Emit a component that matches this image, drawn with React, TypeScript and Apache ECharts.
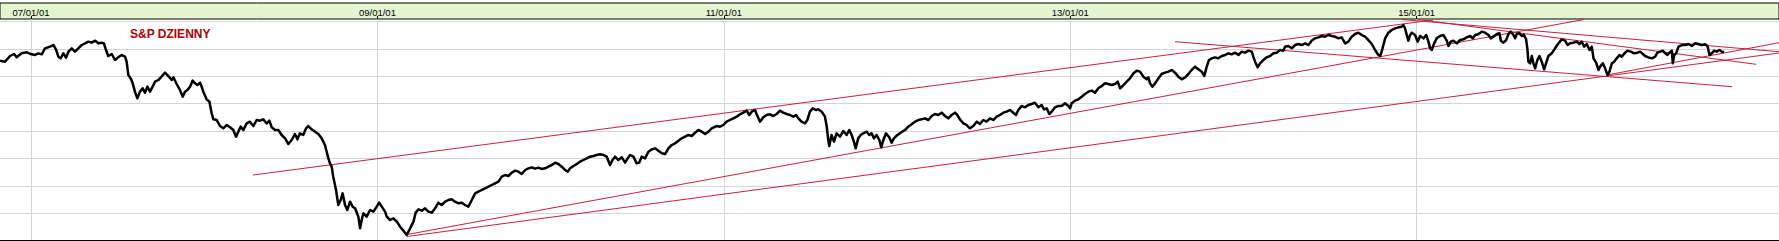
import React, { useEffect, useRef } from "react";
import * as echarts from "echarts";

// x = decimal year, y = index level
const sp2007_2008: [number, number][] = [
  [2006.821, 1713.8], [2006.85, 1706.5], [2006.879, 1747.8], [2006.902, 1762.4], [2006.917, 1738.1],
  [2006.946, 1767.2], [2006.975, 1774.5], [2007.004, 1760.0], [2007.023, 1755.1], [2007.042, 1767.2],
  [2007.062, 1760.0], [2007.081, 1803.7], [2007.11, 1815.8], [2007.129, 1827.9], [2007.144, 1796.4],
  [2007.158, 1743.0], [2007.171, 1730.8], [2007.187, 1767.2], [2007.202, 1735.7], [2007.216, 1779.4],
  [2007.235, 1803.7], [2007.254, 1779.4], [2007.273, 1803.7], [2007.293, 1827.9], [2007.312, 1840.1],
  [2007.331, 1852.2], [2007.35, 1844.9], [2007.37, 1859.5], [2007.389, 1840.1], [2007.408, 1844.9],
  [2007.421, 1840.1], [2007.433, 1791.5], [2007.446, 1747.8], [2007.466, 1762.4], [2007.485, 1718.7],
  [2007.504, 1738.1], [2007.523, 1755.1], [2007.543, 1743.0], [2007.552, 1706.5], [2007.562, 1609.4],
  [2007.575, 1585.1], [2007.587, 1548.7], [2007.6, 1488.0], [2007.614, 1439.4], [2007.629, 1488.0],
  [2007.645, 1512.3], [2007.658, 1480.7], [2007.672, 1524.4], [2007.687, 1488.0], [2007.702, 1524.4],
  [2007.716, 1560.8], [2007.735, 1573.0], [2007.754, 1597.3], [2007.774, 1626.4], [2007.793, 1602.1],
  [2007.812, 1573.0], [2007.822, 1592.4], [2007.841, 1543.8], [2007.86, 1500.1], [2007.876, 1451.5],
  [2007.889, 1488.0], [2007.903, 1500.1], [2007.918, 1524.4], [2007.933, 1568.1], [2007.947, 1548.7],
  [2007.96, 1536.5], [2007.976, 1553.5], [2007.985, 1524.4], [2007.995, 1488.0], [2008.014, 1432.1],
  [2008.03, 1415.1], [2008.043, 1330.1], [2008.053, 1286.4], [2008.072, 1281.5], [2008.091, 1237.8],
  [2008.11, 1220.8], [2008.13, 1245.1], [2008.149, 1228.1], [2008.168, 1208.7], [2008.184, 1160.1],
  [2008.197, 1196.6], [2008.211, 1233.0], [2008.226, 1208.7], [2008.245, 1257.3], [2008.264, 1269.4],
  [2008.284, 1237.8], [2008.303, 1281.5], [2008.322, 1276.7], [2008.341, 1286.4], [2008.361, 1257.3],
  [2008.376, 1276.7], [2008.39, 1228.1], [2008.409, 1208.7], [2008.428, 1208.7], [2008.447, 1172.3],
  [2008.467, 1148.0], [2008.486, 1106.7], [2008.505, 1135.8], [2008.524, 1179.6], [2008.538, 1140.7],
  [2008.553, 1184.4], [2008.572, 1172.3], [2008.588, 1220.8], [2008.601, 1237.8], [2008.62, 1213.6],
  [2008.64, 1196.6], [2008.659, 1179.6], [2008.678, 1148.0], [2008.697, 1099.4], [2008.717, 1002.3],
  [2008.726, 965.8], [2008.736, 941.6], [2008.745, 868.7], [2008.761, 771.6], [2008.774, 662.3],
  [2008.788, 698.7], [2008.799, 747.3], [2008.813, 662.3], [2008.826, 625.8], [2008.842, 686.6],
  [2008.857, 650.1], [2008.871, 638.0],
];

const sp2009_2010: [number, number][] = [
  [2008.89, 577.3], [2008.9, 492.3], [2008.909, 553.0], [2008.919, 601.6], [2008.938, 577.3],
  [2008.958, 625.9], [2008.977, 613.7], [2008.996, 650.1], [2009.01, 679.3], [2009.025, 650.1],
  [2009.044, 613.7], [2009.054, 577.3], [2009.073, 553.0], [2009.092, 565.1], [2009.112, 540.9],
  [2009.131, 504.4], [2009.15, 475.3], [2009.169, 443.9], [2009.189, 492.3], [2009.208, 540.9],
  [2009.221, 606.5], [2009.237, 630.7], [2009.256, 621.0], [2009.275, 638.0], [2009.294, 613.7],
  [2009.314, 606.5], [2009.333, 638.0], [2009.352, 679.3], [2009.371, 662.3], [2009.391, 686.6],
  [2009.41, 698.7], [2009.429, 703.6], [2009.448, 686.6], [2009.468, 674.4], [2009.487, 679.3],
  [2009.506, 662.3], [2009.525, 650.1], [2009.545, 698.7], [2009.564, 747.3], [2009.583, 759.4],
  [2009.602, 771.6], [2009.622, 783.7], [2009.641, 795.8], [2009.66, 808.0], [2009.679, 820.1],
  [2009.699, 832.3], [2009.718, 868.7], [2009.737, 880.8], [2009.756, 873.6], [2009.776, 897.8],
  [2009.795, 912.4], [2009.814, 905.1], [2009.833, 888.1], [2009.853, 917.3], [2009.872, 929.4],
  [2009.891, 936.7], [2009.91, 927.0], [2009.93, 934.3], [2009.949, 924.6], [2009.968, 929.4],
  [2009.987, 941.6], [2010.007, 953.7], [2010.026, 970.7], [2010.045, 961.0], [2010.064, 941.6],
  [2010.083, 917.3], [2010.099, 905.1], [2010.112, 929.4], [2010.132, 946.4], [2010.151, 961.0],
  [2010.17, 978.0], [2010.189, 990.1], [2010.209, 1002.3], [2010.228, 1014.4], [2010.247, 1019.3],
  [2010.266, 1026.5], [2010.286, 1031.4], [2010.305, 1026.5], [2010.324, 1014.4], [2010.343, 953.7],
  [2010.357, 990.1], [2010.372, 1014.4], [2010.391, 990.1], [2010.411, 1009.6], [2010.43, 970.7],
  [2010.445, 1002.3], [2010.459, 1026.5], [2010.478, 1014.4], [2010.497, 965.8], [2010.511, 970.7],
  [2010.526, 1014.4], [2010.545, 1002.3], [2010.565, 1050.8], [2010.584, 1067.8], [2010.603, 1075.1],
  [2010.622, 1058.1], [2010.642, 1038.7], [2010.661, 1033.8], [2010.68, 1075.1], [2010.699, 1099.4],
  [2010.719, 1111.6], [2010.738, 1131.0], [2010.757, 1148.0], [2010.776, 1160.1], [2010.796, 1172.3],
  [2010.815, 1165.0], [2010.834, 1189.3], [2010.853, 1208.7], [2010.873, 1196.6], [2010.892, 1179.6],
  [2010.911, 1196.6], [2010.93, 1220.8],
];

const sp2011_2012: [number, number][] = [
  [2010.958, 1237.8], [2010.978, 1233.0], [2010.997, 1245.1], [2011.016, 1269.4], [2011.035, 1281.5],
  [2011.055, 1293.7], [2011.074, 1305.8], [2011.093, 1322.8], [2011.112, 1335.0], [2011.132, 1349.5],
  [2011.147, 1318.0], [2011.161, 1342.3], [2011.18, 1354.4], [2011.189, 1325.3], [2011.209, 1269.4],
  [2011.228, 1301.0], [2011.247, 1318.0], [2011.266, 1322.8], [2011.286, 1310.7], [2011.305, 1325.3],
  [2011.324, 1349.5], [2011.343, 1335.0], [2011.363, 1325.3], [2011.382, 1318.0], [2011.401, 1305.8],
  [2011.417, 1318.0], [2011.43, 1293.7], [2011.449, 1269.4], [2011.469, 1257.3], [2011.482, 1281.5],
  [2011.497, 1342.3], [2011.513, 1366.5], [2011.532, 1354.4], [2011.545, 1359.3], [2011.565, 1342.3],
  [2011.584, 1305.8], [2011.594, 1233.0], [2011.603, 1135.8], [2011.609, 1092.1], [2011.622, 1172.3],
  [2011.636, 1123.7], [2011.651, 1184.4], [2011.671, 1160.1], [2011.69, 1201.4], [2011.709, 1172.3],
  [2011.724, 1208.7], [2011.738, 1172.3], [2011.751, 1123.7], [2011.761, 1075.1], [2011.776, 1148.0],
  [2011.79, 1172.3], [2011.805, 1184.4], [2011.825, 1196.6], [2011.84, 1172.3], [2011.853, 1184.4],
  [2011.867, 1148.0], [2011.882, 1172.3], [2011.898, 1135.8], [2011.909, 1082.4], [2011.921, 1135.8],
  [2011.936, 1184.4], [2011.955, 1155.3], [2011.969, 1116.4], [2011.982, 1148.0], [2012.002, 1172.3],
  [2012.021, 1189.3], [2012.046, 1208.7], [2012.065, 1233.0], [2012.084, 1250.0], [2012.104, 1269.4],
  [2012.123, 1281.5], [2012.142, 1286.4], [2012.161, 1293.7], [2012.181, 1281.5], [2012.2, 1310.7],
  [2012.219, 1325.3], [2012.238, 1318.0], [2012.258, 1335.0], [2012.277, 1310.7], [2012.296, 1293.7],
  [2012.315, 1318.0], [2012.335, 1335.0], [2012.348, 1318.0], [2012.363, 1286.4], [2012.383, 1257.3],
  [2012.402, 1245.1], [2012.421, 1220.8], [2012.44, 1237.8], [2012.46, 1269.4], [2012.479, 1252.4],
  [2012.498, 1281.5], [2012.517, 1269.4], [2012.537, 1293.7], [2012.556, 1281.5], [2012.575, 1305.8],
  [2012.594, 1318.0], [2012.614, 1335.0], [2012.633, 1342.3], [2012.652, 1354.4], [2012.671, 1335.0],
  [2012.687, 1318.0], [2012.7, 1354.4], [2012.719, 1383.5], [2012.739, 1373.9], [2012.758, 1390.8],
  [2012.777, 1398.1], [2012.796, 1407.8], [2012.816, 1373.9], [2012.835, 1390.8], [2012.848, 1359.3],
  [2012.864, 1366.5], [2012.879, 1325.3], [2012.893, 1342.3], [2012.912, 1373.9], [2012.931, 1383.5],
  [2012.95, 1383.5], [2012.97, 1402.9],
];

const sp2013_2014: [number, number][] = [
  [2012.989, 1383.5], [2012.999, 1366.5], [2013.008, 1402.9], [2013.028, 1422.4], [2013.047, 1432.1],
  [2013.066, 1451.5], [2013.085, 1470.9], [2013.105, 1487.9], [2013.124, 1495.3], [2013.143, 1480.7],
  [2013.162, 1512.3], [2013.182, 1529.3], [2013.201, 1548.7], [2013.22, 1543.8], [2013.239, 1536.5],
  [2013.259, 1543.8], [2013.274, 1560.8], [2013.288, 1512.3], [2013.307, 1536.5], [2013.326, 1560.8],
  [2013.345, 1585.1], [2013.365, 1621.5], [2013.384, 1641.0], [2013.403, 1633.7], [2013.422, 1597.3],
  [2013.442, 1577.8], [2013.451, 1592.4], [2013.461, 1548.7], [2013.474, 1524.4], [2013.49, 1548.7],
  [2013.509, 1585.1], [2013.528, 1616.7], [2013.547, 1626.4], [2013.567, 1633.7], [2013.586, 1645.8],
  [2013.605, 1626.4], [2013.624, 1597.3], [2013.644, 1577.8], [2013.663, 1592.4], [2013.682, 1616.7],
  [2013.701, 1645.8], [2013.721, 1670.1], [2013.74, 1650.7], [2013.759, 1633.7], [2013.774, 1602.1],
  [2013.788, 1670.1], [2013.801, 1718.7], [2013.817, 1730.8], [2013.836, 1738.1], [2013.855, 1730.8],
  [2013.875, 1747.8], [2013.894, 1755.1], [2013.913, 1767.3], [2013.932, 1760.0], [2013.952, 1772.1],
  [2013.971, 1755.1], [2013.99, 1779.4], [2014.009, 1772.1], [2014.029, 1786.7], [2014.048, 1779.4],
  [2014.057, 1743.0], [2014.067, 1706.5], [2014.082, 1665.3], [2014.096, 1694.4], [2014.115, 1718.7],
  [2014.134, 1738.1], [2014.154, 1747.8], [2014.173, 1767.3], [2014.192, 1772.1], [2014.211, 1791.5],
  [2014.231, 1786.7], [2014.24, 1815.8], [2014.259, 1820.7], [2014.279, 1803.7], [2014.298, 1827.9],
  [2014.317, 1835.2], [2014.336, 1827.9], [2014.356, 1840.1], [2014.375, 1827.9], [2014.394, 1859.5],
  [2014.413, 1876.5], [2014.433, 1883.8], [2014.452, 1893.5], [2014.471, 1888.7], [2014.49, 1900.8],
  [2014.51, 1893.5], [2014.529, 1888.7], [2014.548, 1876.5], [2014.567, 1883.8], [2014.587, 1840.1],
  [2014.606, 1852.2], [2014.625, 1888.7], [2014.644, 1908.1], [2014.664, 1917.8], [2014.683, 1900.8],
  [2014.702, 1888.7], [2014.721, 1864.4], [2014.741, 1835.2], [2014.76, 1791.5], [2014.779, 1755.1],
  [2014.789, 1747.8], [2014.798, 1779.4], [2014.808, 1827.9], [2014.818, 1876.5], [2014.837, 1917.8],
  [2014.856, 1937.2], [2014.875, 1949.4], [2014.895, 1956.7], [2014.914, 1961.5], [2014.923, 1973.7],
  [2014.933, 1949.4], [2014.943, 1900.8], [2014.952, 1859.5], [2014.962, 1900.8], [2014.972, 1917.8],
  [2014.991, 1900.8], [2015.006, 1852.2],
];

const sp2015_2016: [number, number][] = [
  [2015.02, 1893.5], [2015.039, 1876.5], [2015.055, 1900.8], [2015.068, 1852.2], [2015.078, 1803.7],
  [2015.087, 1791.5], [2015.101, 1840.1], [2015.116, 1876.5], [2015.135, 1893.5], [2015.155, 1900.8],
  [2015.174, 1859.5], [2015.184, 1820.7], [2015.197, 1852.2], [2015.212, 1859.5], [2015.232, 1840.1],
  [2015.251, 1864.4], [2015.27, 1869.2], [2015.289, 1883.8], [2015.309, 1893.5], [2015.324, 1876.5],
  [2015.338, 1900.8], [2015.357, 1908.1], [2015.376, 1925.1], [2015.395, 1917.8], [2015.415, 1900.8],
  [2015.428, 1876.5], [2015.443, 1888.7], [2015.463, 1908.1], [2015.478, 1913.0], [2015.486, 1859.5],
  [2015.501, 1844.9], [2015.517, 1864.4], [2015.53, 1908.1], [2015.543, 1925.1], [2015.559, 1900.8],
  [2015.568, 1876.5], [2015.578, 1908.1], [2015.594, 1913.0], [2015.607, 1893.5], [2015.62, 1900.8],
  [2015.632, 1869.2], [2015.64, 1791.5], [2015.645, 1706.5], [2015.655, 1694.4], [2015.665, 1747.8],
  [2015.674, 1694.4], [2015.684, 1658.0], [2015.697, 1718.7], [2015.709, 1747.8], [2015.722, 1706.5],
  [2015.736, 1650.7], [2015.747, 1694.4], [2015.761, 1747.8], [2015.78, 1767.3], [2015.799, 1803.7],
  [2015.819, 1840.1], [2015.838, 1869.2], [2015.857, 1859.5], [2015.871, 1827.9], [2015.886, 1840.1],
  [2015.905, 1845.0], [2015.925, 1852.2], [2015.94, 1835.2], [2015.953, 1852.2], [2015.967, 1815.8],
  [2015.982, 1835.2], [2015.998, 1791.5], [2016.011, 1815.8], [2016.021, 1730.8], [2016.036, 1699.3],
  [2016.05, 1645.8], [2016.059, 1670.1], [2016.075, 1694.4], [2016.088, 1658.0], [2016.102, 1609.4],
  [2016.113, 1633.7], [2016.127, 1694.4], [2016.14, 1706.5], [2016.155, 1730.8], [2016.171, 1755.1],
  [2016.184, 1743.0], [2016.204, 1772.1], [2016.217, 1786.7], [2016.236, 1779.4], [2016.256, 1767.3],
  [2016.275, 1772.1], [2016.29, 1779.4], [2016.306, 1762.4], [2016.319, 1747.8], [2016.338, 1738.1],
  [2016.358, 1730.8], [2016.377, 1743.0], [2016.39, 1772.1], [2016.406, 1779.4], [2016.421, 1786.7],
  [2016.435, 1767.3], [2016.448, 1755.1], [2016.46, 1772.1], [2016.473, 1786.7], [2016.479, 1694.4],
  [2016.487, 1755.1], [2016.498, 1767.3], [2016.512, 1815.8], [2016.531, 1827.9], [2016.55, 1827.9],
  [2016.569, 1835.2], [2016.589, 1820.7], [2016.608, 1840.1], [2016.627, 1835.2], [2016.646, 1827.9],
  [2016.666, 1832.8], [2016.679, 1820.7], [2016.691, 1755.1], [2016.704, 1767.3], [2016.718, 1786.7],
  [2016.733, 1779.4], [2016.748, 1791.5], [2016.762, 1779.4], [2016.775, 1776.9],
];

// Trend lines: [start, end] as [year, level]
const trendA: [number, number][] = [[2008.282, 880.8], [2015.095, 2010.1]];
const trendB: [number, number][] = [[2009.171, 447.4], [2015.966, 2013.7]];
const trendC: [number, number][] = [[2009.171, 432.8], [2017.092, 1769.7]];
const trendD: [number, number][] = [[2013.605, 1852.0], [2016.821, 1524.2]];
const trendE: [number, number][] = [[2014.916, 2013.7], [2017.092, 1779.1]];
const trendF: [number, number][] = [[2016.099, 1609.4], [2017.092, 1844.7]];
const trendG: [number, number][] = [[2015.008, 2013.7], [2016.96, 1687.3]];

const tickYears = [2007, 2009, 2011, 2013, 2015];
const tickLabels = ["07/01/01", "09/01/01", "11/01/01", "13/01/01", "15/01/01"];

const X_MIN = 2006.821;
const X_MAX = 2017.092;

export default function App() {
  const ref = useRef<HTMLDivElement>(null);
  useEffect(() => {
    document.body.style.margin = "0";
    if (!ref.current) return;
    const chart = echarts.init(ref.current, undefined, { renderer: "svg" });
    const price = [...sp2007_2008, ...sp2009_2010, ...sp2011_2012, ...sp2013_2014, ...sp2015_2016];
    const trends = [trendA, trendB, trendC, trendD, trendE, trendF, trendG];
    const red = "#c4223a";
    chart.setOption({
      animation: false,
      backgroundColor: "#ffffff",
      title: {
        text: "S&P DZIENNY",
        left: 130,
        top: 28,
        padding: 0,
        textStyle: { color: "#b00000", fontSize: 12, fontWeight: "bold", fontFamily: "Liberation Sans, Arial, sans-serif" },
      },
      grid: [
        { left: 0, right: 0, top: 19, bottom: 0, containLabel: false },
        {
          left: 0, right: 0, top: 3, height: 16, show: true,
          backgroundColor: "#e3f6d0", borderColor: "#000000", borderWidth: 1,
        },
      ],
      xAxis: [
        {
          type: "value", gridIndex: 0, min: X_MIN, max: X_MAX, position: "bottom",
          axisLine: { show: true, lineStyle: { color: "#000", width: 2 } },
          axisTick: { show: false, customValues: tickYears },
          axisLabel: { show: false, customValues: tickYears },
          splitLine: { show: true, lineStyle: { color: "#d4d4d4", width: 1 } },
        },
        {
          type: "value", gridIndex: 1, min: X_MIN, max: X_MAX, position: "top",
          axisLine: { show: false },
          axisTick: { show: true, inside: false, length: 3, customValues: tickYears, lineStyle: { color: "#000" } },
          axisLabel: {
            show: true, inside: true, margin: 4, customValues: tickYears,
            fontSize: 9.5, color: "#000", fontFamily: "Liberation Sans, Arial, sans-serif",
            formatter: (v: number) => tickLabels[tickYears.indexOf(Math.round(v))] ?? "",
          },
          splitLine: { show: false },
        },
      ],
      yAxis: [
        {
          type: "value", gridIndex: 0, min: 400, max: 2017.4, interval: 200,
          axisLine: { show: false }, axisTick: { show: false }, axisLabel: { show: false },
          splitLine: { show: true, showMaxLine: false, lineStyle: { color: "#d4d4d4", width: 1 } },
        },
        { type: "value", gridIndex: 1, min: 0, max: 1, show: false, splitLine: { show: false } },
      ],
      series: [
        ...trends.map((t) => ({
          type: "line", xAxisIndex: 0, yAxisIndex: 0, data: t, showSymbol: false, symbol: "none",
          lineStyle: { color: red, width: 1 }, z: 2, silent: true,
        })),
        {
          type: "line", xAxisIndex: 0, yAxisIndex: 0, data: price, showSymbol: false, symbol: "none",
          lineStyle: { color: "#000", width: 2.5, join: "round" }, z: 3, silent: true,
        },
      ],
    });
    return () => chart.dispose();
  }, []);
  return <div ref={ref} style={{ width: 1779, height: 241 }} />;
}
